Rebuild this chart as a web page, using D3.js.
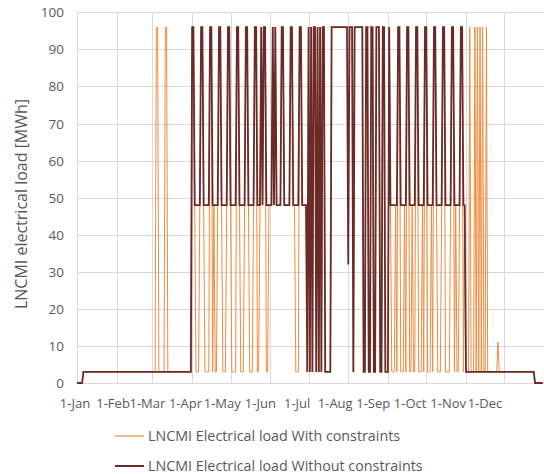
<!DOCTYPE html>
<html>
<head>
<meta charset="utf-8">
<script src="https://cdn.jsdelivr.net/npm/d3@7"></script>
<style>
  body { margin: 0; background: #fff; }
  text { font-family: "Open Sans", "Liberation Sans", sans-serif; fill: #595959; }
</style>
</head>
<body>
<svg id="chart" width="544" height="474"></svg>
<script>
// daily values, one per day of the year (Jan 1 .. Dec 31)
var withJan = [0,0,0,0,0,3,3,3,3,3,3,3,3,3,3,3,3,3,3,3,3,3,3,3,3,3,3,3,3,3,3];
var withFeb = [3,3,3,3,3,3,3,3,3,3,3,3,3,3,3,3,3,3,3,3,3,3,3,3,3,3,3,3];
var withMar = [3,3,3,96,96,3,3,3,3,3,96,96,3,3,3,3,3,3,3,3,3,3,3,3,3,3,3,3,3,3,3];
var withApr = [96,96,48,3,3,3,48,96,96,48,3,3,3,3,96,96,3,48,3,3,48,96,96,48,3,3,3,48,96,96];
var withMay = [48,3,3,3,3,96,96,48,3,3,3,48,96,96,48,3,3,3,48,96,96,3,3,48,96,48,96,96,3,3,48];
var withJun = [48,48,96,96,96,48,48,48,48,96,96,48,48,48,48,48,96,96,48,48,3,3,3,96,96,48,48,48,48,3];
var withJul = [96,96,96,3,96,96,3,96,3,96,3,96,96,3,3,3,3,3,96,96,96,96,96,96,96,96,96,96,96,96,96];
var withAug = [96,96,96,96,3,96,96,96,96,96,96,96,3,3,96,96,96,96,96,96,3,3,96,96,96,3,3,96,96,3,3];
var withSep = [3,96,48,3,3,3,48,3,96,96,3,3,3,48,3,96,96,3,3,48,3,3,96,96,3,3,3,48,3,96];
var withOct = [96,3,3,3,48,3,96,96,48,3,3,3,48,96,96,3,3,3,3,48,96,96,3,48,3,3,48,96,96,3,48];
var withNov = [3,3,3,96,3,3,3,96,3,96,3,96,3,96,3,3,96,3,3,3,3,3,3,3,3,11,3,3,3,3];
var withDec = [3,3,3,3,3,3,3,3,3,3,3,3,3,3,3,3,3,3,3,3,3,3,3,3,0,0,0,0,0,0,0];

var withoutJan = [0,0,0,0,0,3,3,3,3,3,3,3,3,3,3,3,3,3,3,3,3,3,3,3,3,3,3,3,3,3,3];
var withoutFeb = [3,3,3,3,3,3,3,3,3,3,3,3,3,3,3,3,3,3,3,3,3,3,3,3,3,3,3,3];
var withoutMar = [3,3,3,3,3,3,3,3,3,3,3,3,3,3,3,3,3,3,3,3,3,3,3,3,3,3,3,3,3,3,3];
var withoutApr = [96,96,48,48,48,48,48,96,96,48,48,48,48,48,96,96,48,48,48,48,48,96,96,48,48,48,48,48,96,96];
var withoutMay = [48,48,48,48,48,96,96,48,48,48,48,48,96,96,48,48,48,48,48,96,96,48,48,48,96,48,96,96,48,48,48];
var withoutJun = [48,48,96,48,96,48,48,48,48,96,96,48,48,48,48,48,96,96,48,48,48,48,48,96,96,48,48,48,48,3];
var withoutJul = [96,3,96,3,96,96,3,96,3,96,3,96,96,3,3,3,3,3,96,96,96,96,96,96,96,96,96,96,96,96,96];
var withoutAug = [32,96,96,96,3,96,96,96,96,96,96,96,3,3,96,96,3,3,96,96,3,3,96,96,96,3,3,96,96,3,3];
var withoutSep = [3,96,48,48,48,48,48,48,96,96,48,48,48,48,48,96,96,48,48,48,48,48,96,96,48,48,48,48,48,96];
var withoutOct = [96,48,48,48,48,48,96,96,48,48,48,48,48,96,96,48,48,48,48,48,96,96,48,48,48,48,48,96,96,48,48];
var withoutNov = [3,3,3,3,3,3,3,3,3,3,3,3,3,3,3,3,3,3,3,3,3,3,3,3,3,3,3,3,3,3];
var withoutDec = [3,3,3,3,3,3,3,3,3,3,3,3,3,3,3,3,3,3,3,3,3,3,3,3,0,0,0,0,0,0,0];

var yTicks = [0,10,20,30,40,50,60,70,80,90,100];
var monthLabels = ["1-Jan","1-Feb","1-Mar","1-Apr","1-May","1-Jun","1-Jul","1-Aug","1-Sep","1-Oct","1-Nov","1-Dec"];
var seriesNames = ["LNCMI Electrical load With constraints", "LNCMI Electrical load Without constraints"];
var seriesColors = ["#f08b3e", "#6b2a26"];

var withC = [].concat(withJan, withFeb, withMar, withApr, withMay, withJun, withJul, withAug, withSep, withOct, withNov, withDec);
var withoutC = [].concat(withoutJan, withoutFeb, withoutMar, withoutApr, withoutMay, withoutJun, withoutJul, withoutAug, withoutSep, withoutOct, withoutNov, withoutDec);

var svg = d3.select("#chart");
var start = new Date(2019, 0, 1), end = new Date(2020, 0, 1);

var x = d3.scaleTime().domain([start, end]).range([77, 544]);
// excel squeezes the date labels slightly compared to the gridlines
var xLab = d3.scaleTime().domain([start, end]).range([75, 523]);
var y = d3.scaleLinear().domain([0, 100]).range([383, 12.3]);

var months = d3.timeMonth.range(start, end);

// gridlines
svg.append("g").selectAll("line").data(yTicks).enter().append("line")
    .attr("x1", 77).attr("x2", 544)
    .attr("y1", function(d){ return Math.round(y(d)) + 0.5; })
    .attr("y2", function(d){ return Math.round(y(d)) + 0.5; })
    .attr("stroke", "#d9d9d9").attr("stroke-width", 1);
svg.append("g").selectAll("line").data(months).enter().append("line")
    .attr("x1", function(d){ return Math.round(x(d)) + 0.5; })
    .attr("x2", function(d){ return Math.round(x(d)) + 0.5; })
    .attr("y1", y(100)).attr("y2", y(0))
    .attr("stroke", "#d9d9d9").attr("stroke-width", 1);

// y tick labels
svg.append("g").selectAll("text").data(yTicks).enter().append("text")
    .attr("x", 64).attr("y", function(d){ return y(d) + 5; })
    .attr("text-anchor", "end").style("font-size", "13.5px")
    .text(function(d){ return d; });

// x tick labels
svg.append("g").selectAll("text").data(months).enter().append("text")
    .attr("x", function(d){ return xLab(d); }).attr("y", 407.5)
    .attr("text-anchor", "middle").style("font-size", "13px")
    .text(function(d, i){ return monthLabels[i]; });

// y axis title
svg.append("text")
    .attr("transform", "translate(27,204) rotate(-90)")
    .attr("text-anchor", "middle").style("font-size", "16px")
    .text("LNCMI electrical load [MWh]");

// lines
var line = d3.line()
    .x(function(d, i){ return x(d3.timeDay.offset(start, i)); })
    .y(function(d){ return y(d); });

svg.append("path").datum(withC)
    .attr("d", line).attr("fill", "none")
    .attr("stroke", seriesColors[0]).attr("stroke-width", 1)
    .attr("stroke-linejoin", "miter");
svg.append("path").datum(withoutC)
    .attr("d", line).attr("fill", "none")
    .attr("stroke", seriesColors[1]).attr("stroke-width", 1.8)
    .attr("stroke-linejoin", "miter");

// legend
var leg = svg.append("g").selectAll("g").data(seriesNames).enter().append("g")
    .attr("transform", function(d, i){ return "translate(0," + (436 + i * 30) + ")"; });
leg.append("line")
    .attr("x1", 115).attr("x2", 144).attr("y1", 0).attr("y2", 0)
    .attr("stroke", function(d, i){ return seriesColors[i]; })
    .attr("stroke-width", function(d, i){ return i == 0 ? 1.2 : 2; });
leg.append("text")
    .attr("x", 148).attr("y", 5)
    .style("font-size", "14.3px")
    .text(function(d){ return d; });
</script>
</body>
</html>
